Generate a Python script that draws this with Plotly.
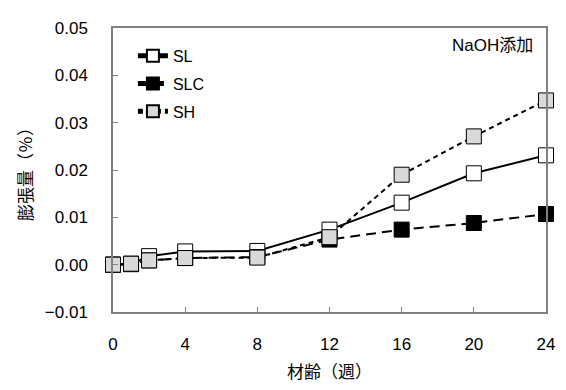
import plotly.graph_objects as go

weeks = [0, 1, 2, 4, 8, 12, 16, 20, 24]
sl = [0.0, 0.0002, 0.0018, 0.0028, 0.0029, 0.0074, 0.0131, 0.0193, 0.0231]
slc = [0.0, 0.0001, 0.0009, 0.0014, 0.0016, 0.0053, 0.0074, 0.0088, 0.0107]
sh = [0.0, 0.0002, 0.0009, 0.0014, 0.0015, 0.0058, 0.0190, 0.0271, 0.0347]
x_ticks = [0, 4, 8, 12, 16, 20, 24]
y_ticks = [-0.01, 0.0, 0.01, 0.02, 0.03, 0.04, 0.05]

FONT = "Liberation Sans, Arial, Noto Sans CJK JP"

fig = go.Figure()
series = [
    ("SL", sl, "solid", "white"),
    ("SLC", slc, "dash", "black"),
    ("SH", sh, "dot", "#d9d9d9"),
]
dashes = {"solid": "solid", "dash": "10px,6px", "dot": "5px,4px"}
for name, vals, d, fill in series:
    fig.add_trace(go.Scatter(
        x=weeks, y=vals, name=name, mode="lines+markers", legendgroup=name,
        line=dict(color="black", width=2, dash=dashes[d]),
        marker=dict(symbol="square", size=15, color=fill,
                    line=dict(color="black", width=1)),
        cliponaxis=False,
    ))

axis_common = dict(
    showgrid=False, zeroline=False, showline=True, linecolor="#808080",
    linewidth=1.5, mirror=True, ticks="inside", ticklen=5, tickcolor="#808080",
    tickfont=dict(size=17, color="black", family=FONT),
)
fig.update_xaxes(range=[0, 24], tickvals=x_ticks, ticklabelstandoff=16,
                 title=dict(text="材齢（週）", font=dict(size=17, family="Noto Sans CJK JP", color="black"), standoff=13),
                 **axis_common)
fig.update_yaxes(range=[-0.01, 0.05], tickvals=y_ticks, tickformat=".2f", ticklabelstandoff=20,
                 title=dict(text="膨張量（％）", font=dict(size=17, family="Noto Sans CJK JP", color="black"), standoff=8),
                 **axis_common)

fig.add_annotation(text="NaOH添加", xref="paper", yref="paper", x=0.975, y=0.94,
                   xanchor="right", yanchor="middle", showarrow=False,
                   font=dict(size=17, color="black", family=FONT))

fig.update_layout(
    width=558, height=382,
    margin=dict(l=105, r=13, t=11, b=77),
    paper_bgcolor="white", plot_bgcolor="white",
    font=dict(family=FONT, color="black"),
    legend=dict(x=0.046, y=0.962, xanchor="left", yanchor="top",
                bgcolor="rgba(0,0,0,0)", font=dict(size=16, family=FONT),
                tracegroupgap=4, itemsizing="constant"),
    showlegend=True,
)

fig.write_html("out.html")
